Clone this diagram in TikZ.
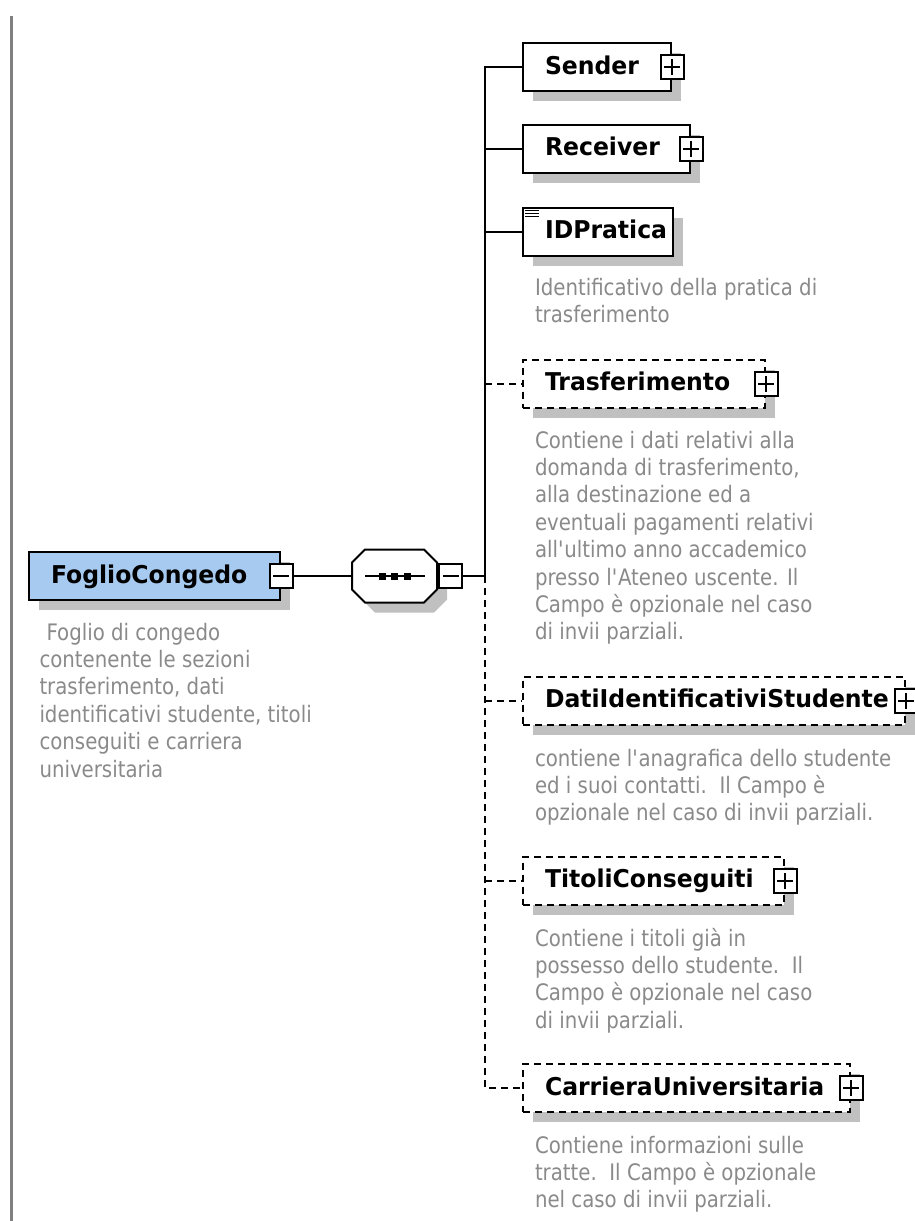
\documentclass[tikz,border=0pt]{standalone}
\usepackage{fontspec}
\setmainfont{DejaVu Sans}
\newfontfamily\namefont{DejaVu Sans}[FakeStretch=0.96]
\newfontfamily\descfont{DejaVu Sans}[FakeStretch=0.87]
\usetikzlibrary{shadows}
\definecolor{shade}{RGB}{192,192,192}
\definecolor{globalfill}{RGB}{166,202,240}
\definecolor{desctext}{RGB}{138,138,138}
\definecolor{rulegray}{RGB}{128,128,128}
\newcommand\firstline{\rule{0pt}{18pt}}

\begin{document}
\begin{tikzpicture}[x=1pt,y=-1pt,line width=2pt,
  shadowed/.style={drop shadow={shadow xshift=10pt,shadow yshift=-10pt,fill=shade,opacity=1}},
  elem/.style={draw,fill=white,rectangle,shadowed,minimum height=48pt,
    inner xsep=22pt,inner ysep=0pt,align=left,text height=18pt,text depth=4pt,
    font=\namefont\bfseries\fontsize{24.5}{29}\selectfont},
  optional/.style={elem,dash pattern=on 7pt off 5pt},
  pmbox/.style={draw,fill=white,rectangle,minimum width=23pt,minimum height=24pt,inner sep=0pt},
  plusbox/.style={pmbox,path picture={
    \draw[line width=2pt] ([xshift=-8pt]path picture bounding box.center) -- ([xshift=8pt]path picture bounding box.center)
      ([yshift=-8pt]path picture bounding box.center) -- ([yshift=8pt]path picture bounding box.center);}},
  minusbox/.style={pmbox,path picture={
    \draw[line width=2pt] ([xshift=-8pt]path picture bounding box.center) -- ([xshift=8pt]path picture bounding box.center);}},
  seqanchor/.style={rectangle,minimum width=85pt,minimum height=53pt,inner sep=0pt},
  desc/.style={anchor=north west,inner sep=0pt,align=left,text=desctext,
    font=\descfont\fontsize{22.7}{27.4}\selectfont},
  link/.style={line width=2pt},
  optlink/.style={line width=2pt,dash pattern=on 7pt off 5pt}]

% canvas and margin rule
\fill[white] (0,0) rectangle (915,1221);
\useasboundingbox (0,0) rectangle (915,1221);
\draw[rulegray,line width=3pt] (11,16) -- (11,1221);

% root element
\node[elem,fill=globalfill,text width=207pt] (foglio) at (154.5,576) {FoglioCongedo};
\node[minusbox] (fogliopm) at (foglio.east) {};
\node[desc] (fogliodesc) at (38.5,621) {\firstline\hspace*{7pt}Foglio di congedo\\contenente le sezioni\\trasferimento, dati\\identificativi studente, titoli\\conseguiti e carriera\\universitaria};

% sequence compositor: octagon with its shadow, a bar and three dots
\node[seqanchor] (seq) at (394.5,576) {};
\draw[fill=white,shadowed] (seq.center) ++(-42.5,-13.5) -- ++(13,-13) -- ++(59,0) -- ++(13,13)
  -- ++(0,27) -- ++(-13,13) -- ++(-59,0) -- ++(-13,-13) -- cycle;
\node[minusbox,anchor=west] (seqpm) at (seq.east) {};
\draw ([xshift=-29.5pt]seq.center) -- ([xshift=30.5pt]seq.center);
\foreach \dx in {-12.5,0,12.5}
  \fill ([xshift=\dx pt]seq.center) +(-3.5,-3.5) rectangle +(3.5,3.5);

% child elements
\node[elem,text width=104pt] (sender) at (597,67) {Sender};
\node[plusbox] (senderpm) at (sender.east) {};

\node[elem,text width=123pt] (receiver) at (606.5,148.5) {Receiver};
\node[plusbox] (receiverpm) at (receiver.east) {};

\node[elem,text width=106pt] (idpratica) at (598,231.5) {IDPratica};
\foreach \dy in {4,7,10}
  \draw[line width=1.2pt] ([xshift=3pt,yshift=-\dy pt]idpratica.north west) -- ++(14,0);
\node[desc] (idpraticadesc) at (534,276) {\firstline Identificativo della pratica di\\trasferimento};

\node[optional,text width=198pt] (trasf) at (644,383.5) {Trasferimento};
\node[plusbox] (trasfpm) at (trasf.east) {};
\node[desc] (trasfdesc) at (534,429) {\firstline Contiene i dati relativi alla\\domanda di trasferimento,\\alla destinazione ed a\\eventuali pagamenti relativi\\all\textquotesingle ultimo anno accademico\\presso l\textquotesingle Ateneo uscente. Il\\Campo è opzionale nel caso\\di invii parziali.};

\node[optional,text width=338pt] (dati) at (714,700.5) {DatiIdentificativiStudente};
\node[plusbox] (datipm) at (dati.east) {};
\node[desc] (datidesc) at (534,747) {\firstline contiene l\textquotesingle anagrafica dello studente\\ed i suoi contatti.\ \ Il Campo è\\opzionale nel caso di invii parziali.};

\node[optional,text width=217pt] (titoli) at (653.5,880.5) {TitoliConseguiti};
\node[plusbox] (titolipm) at (titoli.east) {};
\node[desc] (titolidesc) at (534,927) {\firstline Contiene i titoli già in\\possesso dello studente.\ \ Il\\Campo è opzionale nel caso\\di invii parziali.};

\node[optional,text width=283pt] (carriera) at (686.5,1088) {CarrieraUniversitaria};
\node[plusbox] (carrierapm) at (carriera.east) {};
\node[desc] (carrieradesc) at (534,1134) {\firstline Contiene informazioni sulle\\tratte.\ \ Il Campo è opzionale\\nel caso di invii parziali.};

% connectors
\coordinate (bus) at (485,576);
\draw[link] (fogliopm.east) -- (seq.west);
\draw[link] (seqpm.east) -- (bus);
\draw[link] (bus) -- (bus |- sender.west) -- (sender.west);
\draw[link] (bus |- receiver.west) -- (receiver.west);
\draw[link] (bus |- idpratica.west) -- (idpratica.west);
\draw[optlink] (bus |- trasf.west) -- (trasf.west);
\draw[optlink] (bus) -- (bus |- carriera.west) -- (carriera.west);
\draw[optlink] (bus |- dati.west) -- (dati.west);
\draw[optlink] (bus |- titoli.west) -- (titoli.west);
\end{tikzpicture}
\end{document}
